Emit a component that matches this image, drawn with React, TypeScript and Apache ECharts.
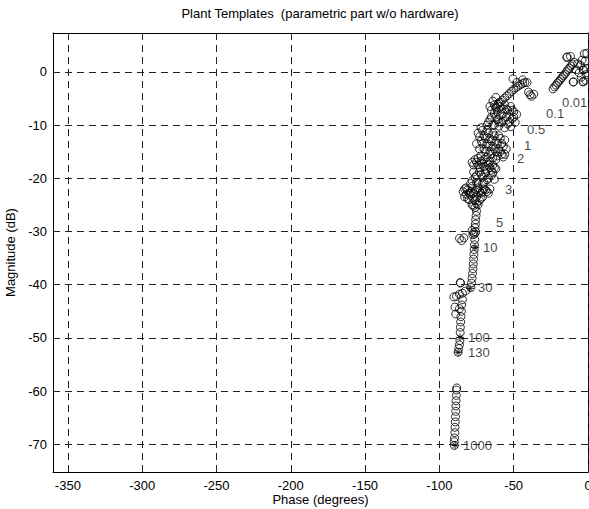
import React, { useEffect, useRef } from "react";
import * as echarts from "echarts";

// Axis settings
const phaseMin = -360;
const phaseMax = 0;
const magMin = -75.2;
const magMax = 7.3;
const phaseTicks = [-350, -300, -250, -200, -150, -100, -50, 0];
const magTicks = [-70, -60, -50, -40, -30, -20, -10, 0];

// Template point clouds [phase (deg), magnitude (dB)]
const tmpl001 = [
  [-23.5, -3.2], [-22.5, -2.8], [-21.5, -2.5], [-20.5, -2.1], [-19.5, -1.8], [-18.5, -1.4],
  [-17.5, -1.1], [-16.5, -0.7], [-15.5, -0.4], [-14.5, 0], [-13.5, 0.4], [-12.5, 0.7],
  [-11.5, 1.1], [-10.5, 1.4], [-9.5, 1.8], [-14.3, 2.7], [-14.0, 2.8], [-11.8, 2.9],
  [-2.5, 3.4], [-0.8, 3.5], [-10, -1.9], [-9.7, -1.9], [-3.4, -1.9], [-3.1, -1.8],
  [-1.5, -1.6], [-3.2, 0.3], [-2.9, 0.4], [-1.2, 0.6], [-5, 1.2], [-7, 1.5], [-2, 2],
  [-6, -0.2], [-4.5, -1], [-1, -0.5], [-8, 0.4], [-4, 2.2],
];
const tmpl01 = [
  [-62, -6.6], [-60.5, -6.1], [-59, -5.7], [-57.5, -5.3], [-56, -4.9], [-54.5, -4.5],
  [-53, -4.1], [-51.5, -3.7], [-50, -3.3], [-48.5, -3.0], [-47, -2.7], [-45.5, -2.4],
  [-44, -2.2], [-42.5, -2.0], [-50.5, -1.3], [-48, -2.0], [-44, -1.5], [-41, -2.0],
  [-40, -3.8], [-38, -4.6], [-36.5, -4.2], [-39, -4.3],
];
const tmpl05 = [
  [-66, -6.5], [-64, -5.5], [-62, -6.8], [-60, -5.8], [-58, -7], [-56, -6.2], [-54, -7.2],
  [-52, -6.5], [-50, -7.5], [-65, -8.5], [-63, -7.8], [-61, -9], [-59, -8.2], [-57, -9.3],
  [-55, -8.5], [-53, -9.5], [-51, -8.8], [-49, -9.5], [-64, -10], [-60, -10.2], [-56, -10.5],
  [-52, -10.3], [-67, -9.5], [-62, -4.8], [-65, -7.2], [-63, -6.2], [-61, -7.5], [-59, -6.5],
  [-57, -7.8], [-55, -7], [-53, -8], [-51, -7.2], [-62, -8.5], [-58, -9.5], [-54, -9.8],
  [-50, -8.5], [-48, -8], [-66, -9], [-60, -9.4],
];
const tmpl1 = [
  [-74, -11.5], [-72, -10.5], [-70, -12], [-68, -11], [-66, -12.5], [-64, -11.5], [-62, -13],
  [-60, -12], [-58, -13.5], [-56, -12.8], [-75, -13.5], [-73, -14.5], [-71, -13.5], [-69, -15],
  [-67, -14], [-65, -15.5], [-63, -14.5], [-61, -15.8], [-59, -15], [-57, -16], [-55, -14.5],
  [-74, -16.2], [-70, -16.5], [-66, -16.8], [-62, -16.5], [-68, -10], [-63, -10],
  [-73, -12.2], [-71, -11], [-69, -12.5], [-67, -11.5], [-65, -13], [-63, -12], [-61, -13.5],
  [-59, -12.5], [-57, -14], [-72, -13], [-70, -14.5], [-68, -13.5], [-66, -15], [-64, -14],
  [-62, -15], [-60, -14.5], [-58, -15.5], [-72, -15.8], [-68, -16], [-64, -16.2], [-56, -15.5],
];
const tmpl2 = [
  [-78, -17], [-76, -16.5], [-74, -17.5], [-72, -16.8], [-70, -17.8], [-68, -17], [-66, -18],
  [-64, -17.5], [-62, -18.2], [-77, -18.8], [-75, -19.5], [-73, -18.8], [-71, -19.8], [-69, -19],
  [-67, -20], [-65, -19.5], [-63, -20.2], [-78, -20.5], [-74, -20.8], [-70, -20.8],
  [-77, -17.5], [-75, -17], [-73, -18], [-71, -17.3], [-69, -18.3], [-67, -17.5], [-65, -18.5],
  [-63, -18], [-76, -19.8], [-72, -19.3], [-68, -20.3], [-64, -19],
];
const tmpl3 = [
  [-84, -22.5], [-82, -21.8], [-80, -22.8], [-78, -21.5], [-76, -22.5], [-74, -21.8],
  [-72, -22.8], [-70, -22], [-68, -22.5], [-66, -22], [-83, -23.5], [-81, -23.8], [-79, -23.2],
  [-77, -24], [-75, -23.5], [-73, -24.2], [-71, -23.5], [-78, -25], [-76, -25.5], [-74, -25],
  [-79, -21], [-75, -20.8], [-71, -21], [-83, -22], [-81, -22.2], [-79, -22.5], [-77, -22.8],
  [-75, -22.2], [-73, -22.5], [-71, -22.5], [-69, -22.2], [-67, -22.8], [-82, -23],
  [-80, -24], [-76, -24.2], [-72, -23.8], [-77, -25.2], [-75, -24.8],
];
const tmpl5to10 = [
  [-75, -26.2], [-75.3, -27], [-75.6, -27.8], [-75.8, -28.6], [-76, -29.3], [-78, -29.8],
  [-77, -30.2], [-76.5, -30.5], [-75.5, -30.1], [-77.5, -30.6], [-86.5, -31.3], [-85, -31.7],
  [-83.5, -31.2],
];
const tmpl10to30 = [
  [-76.2, -31.5], [-76.4, -32.5], [-76.6, -33.4], [-76.8, -34.3], [-77, -35.2], [-77.2, -36.1],
  [-77.4, -37], [-77.7, -37.9], [-78, -38.8], [-78.4, -39.7], [-78.8, -40.5], [-86, -39.6],
  [-85.8, -39.7],
];
const tmpl30to130 = [
  [-82.5, -41.2], [-84.5, -41.6], [-86.5, -41.8], [-88.5, -42.2], [-90.3, -42.3], [-84.5, -42.8],
  [-85, -43.8], [-89.5, -44.2], [-86.5, -44.5], [-85.2, -45], [-89, -45.5], [-85.5, -46],
  [-85.7, -47], [-85.9, -48], [-86, -49], [-86.2, -50.5], [-86.5, -51.3], [-87, -52],
  [-87.4, -52.7],
];
const tmpl1000 = [
  [-88.3, -59.4], [-88.5, -59.8], [-88.6, -60.8], [-88.8, -61.8], [-88.9, -62.8], [-89, -63.8],
  [-89.2, -64.8], [-89.3, -65.8], [-89.5, -66.8], [-89.6, -67.8], [-89.8, -68.8], [-90, -69.5],
  [-90, -70.2],
];
const nominalPoints = [
  [-89.4, -70.2], [-87.4, -52.7], [-86.1, -49.9], [-79.4, -40.7], [-76, -33],
];

// Frequency labels (rad/s) and their anchor positions
const freqLabels = ["0.01", "0.1", "0.5", "1", "2", "3", "5", "10", "30", "100", "130", "1000"];
const labelPhase = [-17.5, -28.2, -41.0, -43.0, -47.7, -55.8, -61.9, -70.6, -74.0, -80.7, -80.7, -84.1];
const labelMag = [-5.7, -7.8, -10.8, -13.8, -16.2, -22.1, -28.3, -33.0, -40.5, -49.9, -52.7, -70.2];

const templates = [tmpl001, tmpl01, tmpl05, tmpl1, tmpl2, tmpl3, tmpl5to10, tmpl10to30, tmpl30to130, tmpl1000];

const FONT = "'Liberation Sans', Arial, Helvetica, sans-serif";
const STAR = "path://M0,-5L0,5M-5,0L5,0M-3.6,-3.6L3.6,3.6M-3.6,3.6L3.6,-3.6";
const GRID_LINE = { color: "#222", width: 1, type: [7, 5] as number[] };

export default function App() {
  const ref = useRef<HTMLDivElement>(null);
  useEffect(() => {
    if (!ref.current) return;
    const chart = echarts.init(ref.current, null, { renderer: "svg" });
    const circleSeries = templates.map((pts) => ({
      type: "scatter",
      data: pts,
      symbol: "circle",
      symbolSize: 8,
      itemStyle: { color: "rgba(0,0,0,0)", borderColor: "#000", borderWidth: 1 },
      emphasis: { disabled: true },
      silent: true,
      z: 3,
    }));
    const frameAxis = {
      axisLine: { show: true, onZero: false, lineStyle: { color: "#000", width: 1 } },
      axisTick: { show: true, inside: true, length: 5, lineStyle: { color: "#000" } },
      splitLine: { show: false },
    };
    chart.setOption({
      animation: false,
      backgroundColor: "#fff",
      textStyle: { fontFamily: FONT },
      title: {
        text: "Plant Templates  (parametric part w/o hardware)",
        left: 320,
        top: 7,
        textAlign: "center",
        padding: 0,
        textStyle: { fontFamily: FONT, fontSize: 13, fontWeight: "normal", color: "#000" },
      },
      grid: { left: 53, top: 33, right: 1, bottom: 37, containLabel: false, outerBoundsMode: "none" },
      xAxis: [
        {
          type: "value",
          min: phaseMin,
          max: phaseMax,
          position: "bottom",
          name: "Phase (degrees)",
          nameLocation: "middle",
          nameGap: 21,
          nameMoveOverlap: false,
          nameTextStyle: { fontFamily: FONT, fontSize: 13, color: "#000", verticalAlign: "top" },
          ...frameAxis,
          axisTick: { ...frameAxis.axisTick, customValues: phaseTicks },
          axisLabel: {
            show: true,
            margin: 7,
            fontFamily: FONT,
            fontSize: 13,
            color: "#000",
            customValues: phaseTicks,
            hideOverlap: false,
          },
        },
        {
          type: "value",
          min: phaseMin,
          max: phaseMax,
          position: "top",
          ...frameAxis,
          axisTick: { ...frameAxis.axisTick, customValues: phaseTicks },
          axisLabel: { show: false },
        },
      ],
      yAxis: [
        {
          type: "value",
          min: magMin,
          max: magMax,
          position: "left",
          name: "Magnitude (dB)",
          nameLocation: "middle",
          nameGap: 34,
          nameTextStyle: { fontFamily: FONT, fontSize: 13, color: "#000" },
          ...frameAxis,
          axisTick: { ...frameAxis.axisTick, customValues: magTicks },
          axisLabel: { show: true, margin: 6, fontFamily: FONT, fontSize: 13, color: "#000", customValues: magTicks },
        },
        {
          type: "value",
          min: magMin,
          max: magMax,
          position: "right",
          ...frameAxis,
          axisTick: { ...frameAxis.axisTick, customValues: magTicks },
          axisLabel: { show: false },
        },
      ],
      series: [
        ...circleSeries,
        {
          type: "scatter",
          data: nominalPoints,
          symbol: STAR,
          symbolSize: 8,
          itemStyle: { color: "none", borderColor: "#000", borderWidth: 1 },
          emphasis: { disabled: true },
          silent: true,
          z: 4,
        },
        {
          type: "scatter",
          data: freqLabels.map((t, i) => ({ name: t, value: [labelPhase[i], labelMag[i]] })),
          symbolSize: 0,
          label: {
            show: true,
            position: "right",
            distance: 0,
            formatter: (p: any) => p.name,
            fontFamily: FONT,
            fontSize: 13,
            color: "#111",
          },
          markLine: {
            silent: true,
            symbol: ["none", "none"],
            label: { show: false },
            emphasis: { disabled: true },
            lineStyle: GRID_LINE,
            data: [
              ...phaseTicks.map((v) => ({ xAxis: v })),
              ...magTicks.map((v) => ({ yAxis: v })),
            ],
          },
          emphasis: { disabled: true },
          silent: true,
          z: 2,
        },
      ],
    });
    return () => chart.dispose();
  }, []);
  return <div ref={ref} style={{ position: "fixed", left: 0, top: 0, width: 589, height: 509 }} />;
}
